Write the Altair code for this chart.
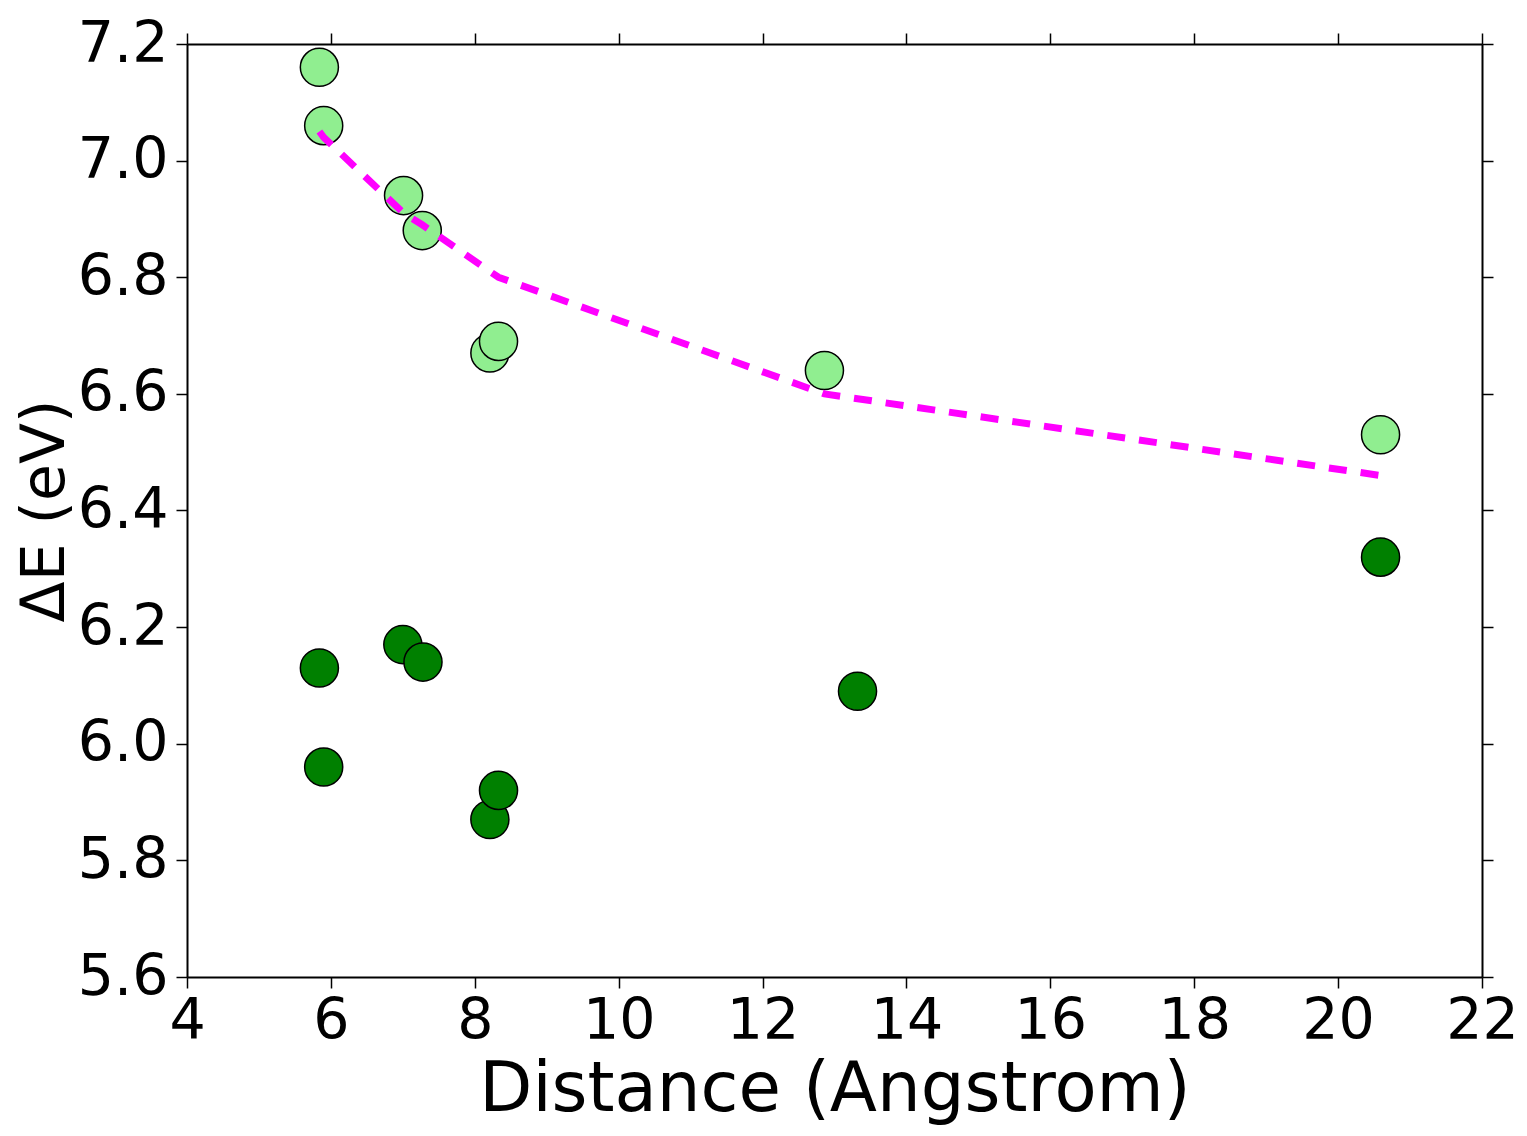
import altair as alt
import pandas as pd

light_x = [5.84, 5.90, 7.01, 7.27, 8.21, 8.33, 12.86, 20.59]
light_y = [7.16, 7.06, 6.94, 6.88, 6.67, 6.69, 6.64, 6.53]
dark_x = [5.84, 5.90, 7.00, 7.28, 8.21, 8.33, 13.32, 20.59]
dark_y = [6.13, 5.96, 6.17, 6.14, 5.87, 5.92, 6.09, 6.32]
fit_x = [5.84, 5.90, 7.01, 7.27, 8.21, 8.33, 12.86, 20.59]
fit_y = [7.05, 7.04, 6.91, 6.89, 6.81, 6.80, 6.60, 6.46]

x_ticks = [4, 6, 8, 10, 12, 14, 16, 18, 20, 22]
y_ticks = [5.6, 5.8, 6.0, 6.2, 6.4, 6.6, 6.8, 7.0, 7.2]

light = pd.DataFrame({"x": light_x, "y": light_y, "o": range(len(light_x))})
dark = pd.DataFrame({"x": dark_x, "y": dark_y, "o": range(len(dark_x))})
fit = pd.DataFrame({"x": fit_x, "y": fit_y, "o": range(len(fit_x))})

FONT = "DejaVu Sans"
xs = alt.Scale(domain=[4, 22], nice=False, zero=False)
ys = alt.Scale(domain=[5.6, 7.2], nice=False, zero=False)

common_axis = dict(
    domainColor="black", domainWidth=2, tickColor="black", tickWidth=1.5,
    tickSize=11, labelFont=FONT, labelFontSize=57, labelColor="black",
    titleFont=FONT, titleColor="black", titleFontWeight="normal",
    grid=False,
)

x_bottom = alt.X("x:Q", scale=xs, axis=alt.Axis(
    orient="bottom", values=x_ticks, format="d", title="Distance (Angstrom)",
    titleFontSize=69, labelPadding=5, titlePadding=6, labelFlush=False,
    **common_axis))
y_left = alt.Y("y:Q", scale=ys, axis=alt.Axis(
    orient="left", values=y_ticks, format=".1f", title="ΔE (eV)",
    titleFontSize=60, labelPadding=8, titlePadding=1, labelFlush=False,
    **common_axis))

x_top = alt.X("x:Q", scale=xs, axis=alt.Axis(
    orient="top", values=x_ticks, labels=False, title=None, **common_axis))
y_right = alt.Y("y:Q", scale=ys, axis=alt.Axis(
    orient="right", values=y_ticks, labels=False, title=None, **common_axis))

dark_layer = alt.Chart(dark).mark_point(
    filled=True, shape="circle", size=1450, fill="#008000", stroke="black",
    strokeWidth=1.5, opacity=1
).encode(x=x_bottom, y=y_left, order="o:O")

light_layer = alt.Chart(light).mark_point(
    filled=True, shape="circle", size=1450, fill="#90EE90", stroke="black",
    strokeWidth=1.5, opacity=1
).encode(x=alt.X("x:Q", scale=xs, axis=None), y=alt.Y("y:Q", scale=ys, axis=None), order="o:O")

fit_layer = alt.Chart(fit).mark_line(
    color="#FF00FF", strokeWidth=7, strokeDash=[18, 14]
).encode(x=x_top, y=y_right, order="o:Q")

chart = alt.layer(dark_layer, light_layer, fit_layer).resolve_axis(
    x="independent", y="independent"
).properties(
    width=1295, height=933,
    autosize=alt.AutoSizeParams(type="none"),
    padding={"left": 179, "top": 36, "right": 37, "bottom": 151},
).configure_view(stroke=None).configure(background="white")

chart.save("out.html", embed_options={"renderer": "svg", "actions": False})
